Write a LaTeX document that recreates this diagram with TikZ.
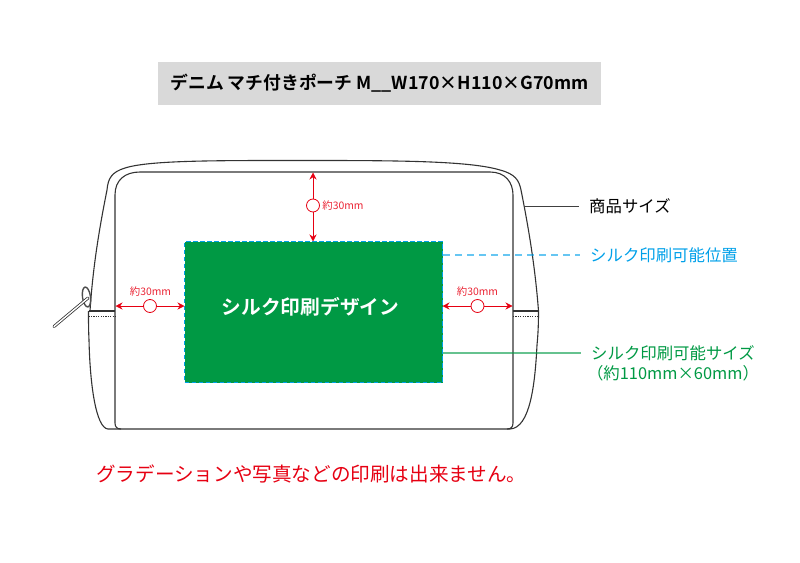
\documentclass[tikz,border=0pt]{standalone}
\usepackage{fontspec}
\setmainfont{Noto Sans CJK JP}[BoldFont={Noto Sans CJK JP Bold}]
\usetikzlibrary{%
  arrows.meta,%
  calc,%
  shapes.geometric,%
}
\definecolor{silkgreen}{HTML}{009944}
\definecolor{silkblue}{HTML}{00A0E9}
\definecolor{silkred}{HTML}{E60012}

\begin{document}
\begin{tikzpicture}[x=1pt, y=-1pt,
    bagline/.style={draw=black!80, line width=1.1pt},
    seam/.style={draw=black!80, line width=0.7pt, dash pattern=on 1.2pt off 1.2pt},
    gap/.style={circle, draw=silkred, fill=white, line width=0.8pt, minimum size=13pt, inner sep=0pt},
    gaplabel/.style={text=silkred!85, font=\fontsize{10.4}{10}\selectfont, inner sep=0pt},
    gaparrow/.style={draw=silkred, line width=0.7pt, -{Stealth[length=7pt, width=7pt]}},
    callout/.style={font=\fontsize{16.4}{20}\selectfont, inner sep=0pt, align=center},
    bluelead/.style={draw=silkblue, opacity=0.6, line width=1.2pt, dash pattern=on 7pt off 5pt},
    greenlead/.style={draw=silkgreen, opacity=0.6, line width=1.2pt},
  ]
  \useasboundingbox (0, 0) rectangle (800, 562);

  % title
  \node [fill=black!15, minimum width=443pt, minimum height=43pt, inner sep=0pt] (title) at (379.5, 83.5) {};
  \node [font=\fontsize{17.8}{18}\selectfont\bfseries, inner sep=0pt] (titletext) at (title.center) {デニム マチ付きポーチ M\_\_W170×H110×G70mm};

  % pouch
  \draw [bagline] (90, 311) .. controls (93, 265) and (100, 225) .. (107, 190)
    .. controls (108, 178) and (112, 172) .. (125, 168)
    .. controls (150, 160) and (220, 160.5) .. (313, 160.5)
    .. controls (400, 160.5) and (470, 161) .. (500, 170)
    .. controls (515, 174) and (519, 180) .. (521, 190)
    .. controls (528, 225) and (535, 265) .. (538.5, 311)
    .. controls (538.5, 325) and (538, 335) .. (537, 345)
    .. controls (535, 385) and (530, 428) .. (510, 429)
    -- (108, 429)
    .. controls (96, 428) and (90, 385) .. (89, 340)
    .. controls (88.5, 330) and (88.5, 320) .. (88.5, 311);
  \draw [bagline] (121, 429) .. controls (117, 429) and (115, 427) .. (115, 423)
    -- (115, 195) .. controls (115, 180) and (125, 172) .. (140, 172)
    -- (490, 172) .. controls (505, 172) and (513, 182) .. (513, 195)
    -- (513, 423) .. controls (513, 427) and (511, 429) .. (507, 429);
  \draw [bagline] (88.5, 311) -- (115, 311);
  \draw [bagline] (513, 311) -- (539, 311);
  \draw [seam] (88.5, 316) -- (115, 316);
  \draw [seam] (513, 316) -- (538.5, 316);

  % zipper
  \node [ellipse, draw=black!70, line width=1.4pt, minimum width=8pt, minimum height=20pt, inner sep=0pt, rotate=8] (ring) at (86.5, 297) {};
  \draw [black!80, line width=3pt, line cap=round] (54, 326.5) -- (88, 298);
  \draw [white, line width=1.4pt, line cap=round] (54, 326.5) -- (88, 298);

  % print area
  \node [fill=silkgreen, draw=silkblue, line width=1.1pt, dash pattern=on 4.5pt off 2.5pt, minimum width=258pt, minimum height=141pt, inner sep=0pt] (printarea) at (313.5, 312) {};
  \node [text=white, font=\fontsize{19.7}{20}\selectfont\bfseries, inner sep=0pt] (printtext) at (310.5, 307) {シルク印刷デザイン};

  % margins
  \coordinate (innertop) at (313, 172.5);
  \coordinate (areatop) at (313, 241.5);
  \coordinate (innerleft) at (115.5, 306);
  \coordinate (arealeft) at (184.5, 306);
  \coordinate (arearight) at (442.5, 306);
  \coordinate (innerright) at (512.5, 306);
  \node [gap] (gaptop) at (313, 205.5) {};
  \node [gap] (gapleft) at (150, 306) {};
  \node [gap] (gapright) at (477.5, 306) {};
  \draw [gaparrow] (gaptop) -- (innertop);
  \draw [gaparrow] (gaptop) -- (areatop);
  \draw [gaparrow] (gapleft) -- (innerleft);
  \draw [gaparrow] (gapleft) -- (arealeft);
  \draw [gaparrow] (gapright) -- (arearight);
  \draw [gaparrow] (gapright) -- (innerright);
  \node [gaplabel] (labeltop) at (343, 206) {約30mm};
  \node [gaplabel] (labelleft) at (150.5, 292) {約30mm};
  \node [gaplabel] (labelright) at (477.5, 292) {約30mm};

  % callouts
  \node [callout, anchor=west, text=black] (sizetext) at (589, 206) {商品サイズ};
  \node [callout, anchor=west, text=silkblue] (postext) at (590, 255) {シルク印刷可能位置};
  \node [callout, anchor=west, text=silkgreen] (areatext) at (591, 353) {シルク印刷可能サイズ};
  \node [callout, text=silkgreen] (areasize) at (673, 373) {（約110mm×60mm）};
  \coordinate (bagedge) at (524, 206);
  \coordinate (areaedge) at (443, 255);
  \coordinate (areaside) at (443, 353);
  \draw [draw=black!75, line width=0.9pt] (bagedge) -- ([xshift=-10pt]sizetext.west);
  \draw [bluelead] (areaedge) -- ([xshift=-10pt]postext.west);
  \draw [greenlead] (areaside) -- ([xshift=-10pt]areatext.west);

  % note
  \node [text=silkred, font=\fontsize{19.6}{20}\selectfont, inner sep=0pt, anchor=west] (note) at (96, 474) {グラデーションや写真などの印刷は出来ません。};
\end{tikzpicture}
\end{document}
